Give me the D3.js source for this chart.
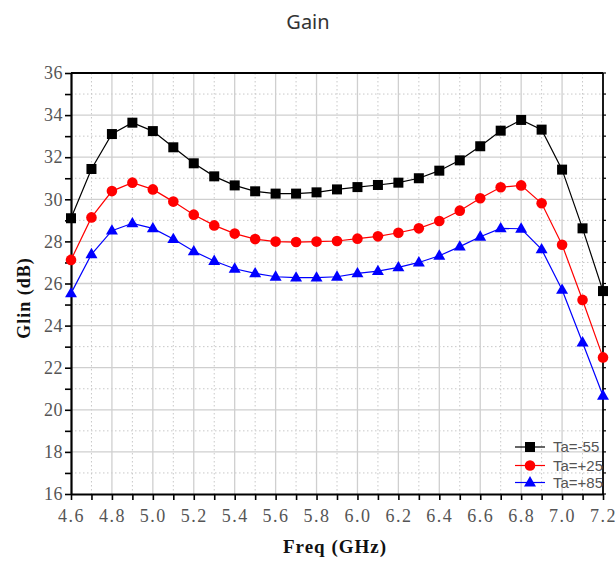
<!DOCTYPE html>
<html><head><meta charset="utf-8">
<script src="https://cdn.jsdelivr.net/npm/d3@7"></script>
<style>body{margin:0;background:#fff}svg{display:block}</style>
</head><body>
<svg id="c" width="616" height="563"></svg>
<script>
const freq = [4.6,4.7,4.8,4.9,5.0,5.1,5.2,5.3,5.4,5.5,5.6,5.7,5.8,5.9,6.0,6.1,6.2,6.3,6.4,6.5,6.6,6.7,6.8,6.9,7.0,7.1,7.2];
const gainM55 = [29.1,31.44,33.1,33.64,33.24,32.47,31.71,31.09,30.66,30.38,30.27,30.27,30.33,30.47,30.58,30.68,30.79,31.0,31.36,31.85,32.52,33.26,33.77,33.31,31.41,28.62,25.64];
const gainP25 = [27.12,29.14,30.39,30.79,30.47,29.89,29.27,28.76,28.37,28.11,27.99,27.97,27.99,28.02,28.13,28.24,28.41,28.62,28.97,29.46,30.05,30.57,30.66,29.81,27.84,25.22,22.49];
const gainP85 = [25.53,27.39,28.51,28.86,28.62,28.11,27.53,27.07,26.70,26.48,26.32,26.28,26.28,26.32,26.48,26.59,26.77,27.0,27.32,27.75,28.22,28.62,28.60,27.62,25.70,23.2,20.67];
const seriesNames = ["Ta=-55","Ta=+25","Ta=+85"];
const xTicks = [4.6,4.8,5.0,5.2,5.4,5.6,5.8,6.0,6.2,6.4,6.6,6.8,7.0,7.2];
const yTicks = [16,18,20,22,24,26,28,30,32,34,36];

const svg = d3.select("#c");
const L=71, R=603, T=73, B=494;
const x = d3.scaleLinear().domain([4.6,7.2]).range([L,R]);
const y = d3.scaleLinear().domain([16,36]).range([B,T]);

const series = [
  {name:seriesNames[0], vals:gainM55, color:"#000000", shape:"square"},
  {name:seriesNames[1], vals:gainP25, color:"#ff0000", shape:"circle"},
  {name:seriesNames[2], vals:gainP85, color:"#0000ff", shape:"triangle"}
];

// title
svg.append("text").attr("x",308).attr("y",29).attr("text-anchor","middle")
  .style("font-family","'Noto Sans', sans-serif").style("font-size","20px").attr("fill","#333").text("Gain");

// grid
const g = svg.append("g");
const minorX = d3.range(4.6,7.2001,0.1).map(v=>+v.toFixed(1));
const minorY = d3.range(16,36.001,1);
g.selectAll(".gxm").data(minorX.filter((v,i)=>i%2===1)).join("line")
  .attr("x1",d=>x(d)).attr("x2",d=>x(d)).attr("y1",T).attr("y2",B)
  .attr("stroke","#c8c8c8").attr("stroke-width",1).attr("stroke-dasharray","1.5,2.5");
g.selectAll(".gym").data(minorY.filter((v)=>v%2===1)).join("line")
  .attr("x1",L).attr("x2",R).attr("y1",d=>y(d)).attr("y2",d=>y(d))
  .attr("stroke","#c8c8c8").attr("stroke-width",1).attr("stroke-dasharray","1.5,2.5");
g.selectAll(".gx").data(xTicks.slice(1,-1)).join("line")
  .attr("x1",d=>x(d)).attr("x2",d=>x(d)).attr("y1",T).attr("y2",B)
  .attr("stroke","#cfcfcf").attr("stroke-width",1.3);
g.selectAll(".gy").data(yTicks.slice(1,-1)).join("line")
  .attr("x1",L).attr("x2",R).attr("y1",d=>y(d)).attr("y2",d=>y(d))
  .attr("stroke","#cfcfcf").attr("stroke-width",1.3);

// axes
const tickFont = "'Liberation Serif', 'Times New Roman', serif";
const xAxis = svg.append("g").attr("transform",`translate(0,${B})`)
  .call(d3.axisBottom(x).tickValues(minorX).tickSize(6).tickSizeOuter(0).tickFormat(d=>xTicks.some(t=>Math.abs(t-d)<1e-6)?d3.format(".1f")(d):""));
const yAxis = svg.append("g").attr("transform",`translate(${L},0)`)
  .call(d3.axisLeft(y).tickValues(minorY).tickSize(6).tickSizeOuter(0).tickFormat(d=>d%2===0?d:""));
[xAxis,yAxis].forEach(a=>{
  a.select(".domain").attr("stroke","#000").attr("stroke-width",2.2);
  a.selectAll(".tick line").attr("stroke","#000").attr("stroke-width",1.6);
  a.selectAll("text").style("font-family",tickFont).style("font-size","18px").attr("fill","#555");
});
xAxis.selectAll("text").attr("dy","1.05em").style("letter-spacing","1.5px");
yAxis.selectAll("text").attr("x",-8).style("letter-spacing","0.5px");

// right / top border
svg.append("line").attr("x1",L).attr("x2",R).attr("y1",T).attr("y2",T).attr("stroke","#000").attr("stroke-width",1.8);
svg.append("line").attr("x1",R).attr("x2",R).attr("y1",T).attr("y2",B).attr("stroke","#000").attr("stroke-width",1.8);
svg.append("g").selectAll("line").data(minorY).join("line")
  .attr("x1",R).attr("x2",R+3).attr("y1",d=>y(d)).attr("y2",d=>y(d)).attr("stroke","#000").attr("stroke-width",1.2);

// axis labels
svg.append("text").attr("transform","translate(24,298) rotate(-90)").attr("text-anchor","middle").attr("dy","0.35em")
  .style("font-family",tickFont).style("font-weight","bold").style("font-size","18px").style("letter-spacing","1px").attr("fill","#111").text("Glin (dB)");
svg.append("text").attr("x",335).attr("y",553).attr("text-anchor","middle")
  .style("font-family",tickFont).style("font-weight","bold").style("font-size","19px").style("letter-spacing","1px").attr("fill","#111").text("Freq (GHz)");

// data
function marker(sel, shape, color){
  if(shape==="square") sel.append("rect").attr("x",-5).attr("y",-5).attr("width",10).attr("height",10).attr("fill",color);
  else if(shape==="circle") sel.append("circle").attr("r",5.3).attr("fill",color);
  else sel.append("path").attr("d",d3.symbol(d3.symbolTriangle,62)()).attr("transform","translate(0,0.5)").attr("fill",color);
}
const line = d3.line().x((d,i)=>x(freq[i])).y(d=>y(d));
series.forEach(s=>{
  svg.append("path").attr("d",line(s.vals)).attr("fill","none").attr("stroke",s.color).attr("stroke-width",1.2);
  s.vals.forEach((v,i)=>{
    const m = svg.append("g").attr("transform",`translate(${x(freq[i])},${y(v)})`);
    marker(m,s.shape,s.color);
  });
});

// legend
const legY = [447,465.5,482.5];
series.forEach((s,i)=>{
  const lg = svg.append("g").attr("transform",`translate(515,${legY[i]})`);
  lg.append("line").attr("x1",0).attr("x2",30).attr("stroke",s.color).attr("stroke-width",1.2);
  const m = lg.append("g").attr("transform","translate(15,0)");
  marker(m,s.shape,s.color);
  lg.append("text").attr("x",38).attr("dy","0.35em")
    .style("font-family","'Liberation Sans Narrow','Liberation Sans',sans-serif").style("font-size","15px").attr("fill","#555").text(s.name);
});
</script>
</body></html>
